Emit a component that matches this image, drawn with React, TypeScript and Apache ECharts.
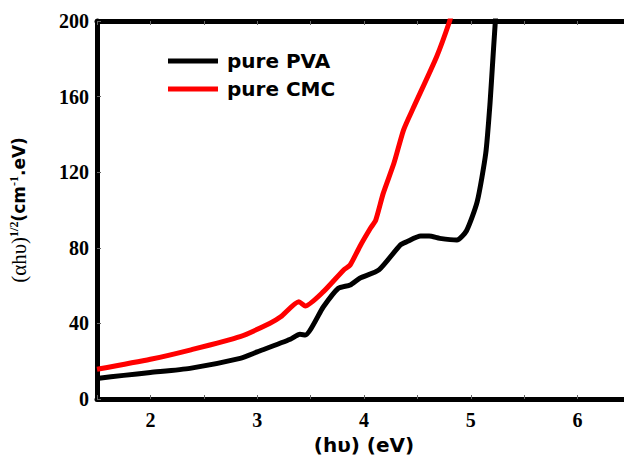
import React, { useEffect, useRef } from "react";
import * as echarts from "echarts";

const pvaX = [1.5, 1.75, 2.0, 2.37, 2.84, 3.0, 3.31, 3.4, 3.45, 3.62, 3.76, 3.87, 3.96, 4.14, 4.34, 4.4, 4.53, 4.61, 4.71, 4.87, 4.96, 5.06, 5.14, 5.18, 5.21, 5.23, 5.245];
const pvaY = [10.9, 12.5, 14.0, 16.2, 21.5, 24.9, 31.6, 34.2, 33.9, 48.8, 58.6, 60.3, 63.9, 68.3, 81.5, 83.2, 86.2, 86.2, 85.0, 84.1, 89.0, 104.4, 130, 156.5, 182.9, 200, 215];
const cmcX = [1.5, 2.0, 2.37, 2.84, 3.12, 3.22, 3.39, 3.45, 3.62, 3.81, 3.87, 3.96, 4.06, 4.11, 4.18, 4.28, 4.37, 4.46, 4.68, 4.8, 4.83];
const cmcY = [15.7, 21.0, 25.9, 33.0, 40.1, 43.5, 51.5, 49.2, 56.8, 68.3, 70.9, 80.6, 90.3, 94.7, 108.8, 124.7, 142.3, 153.8, 181.1, 199.6, 206];
const xTicks = [2, 3, 4, 5, 6];
const yTicks = [0, 40, 80, 120, 160, 200];

const serif = "'Liberation Serif', 'Times New Roman', serif";
const wide = "'DejaVu Sans', 'Liberation Sans', Arial, sans-serif";

export default function App() {
  const ref = useRef<HTMLDivElement>(null);
  useEffect(() => {
    if (!ref.current) return;
    const chart = echarts.init(ref.current, undefined, { renderer: "svg" });
    const axisLine = { show: true, lineStyle: { color: "#000", width: 5 } };
    chart.setOption({
      animation: false,
      backgroundColor: "#fff",
      grid: { left: 97, top: 21, bottom: 60, right: -7, outerBoundsMode: "none", containLabel: false },
      legend: {
        orient: "vertical",
        left: 168,
        top: 50,
        padding: 0,
        itemWidth: 50,
        itemHeight: 5,
        itemGap: 6,
        icon: "rect",
        textStyle: { fontFamily: wide, fontWeight: "bold", fontSize: 20, color: "#000", lineHeight: 22, padding: [0, 0, 0, 4] },
        data: ["pure PVA", "pure CMC"],
      },
      xAxis: [
        {
          type: "value",
          min: 1.5,
          max: 6.5,
          interval: 0.5,
          axisLine: { ...axisLine, onZero: false },
          axisTick: { show: true, inside: true, length: 4, lineStyle: { color: "#666", width: 1 } },
          splitLine: { show: false },
          axisLabel: {
            margin: 11,
            fontFamily: serif,
            fontWeight: "bold",
            fontSize: 20,
            color: "#000",
            formatter: (v: number) => (xTicks.includes(v) ? String(v) : ""),
          },
          name: "(hυ) (eV)",
          nameLocation: "middle",
          nameGap: 36,
          nameTextStyle: { fontFamily: wide, fontWeight: "bold", fontSize: 20, color: "#000", lineHeight: 20 },
        },
        {
          type: "value",
          position: "top",
          min: 1.5,
          max: 6.5,
          interval: 0.5,
          axisLine: { ...axisLine, onZero: false },
          axisTick: { show: true, inside: true, length: 4, lineStyle: { color: "#666", width: 1 } },
          axisLabel: { show: false },
          splitLine: { show: false },
        },
      ],
      yAxis: {
        type: "value",
        min: 0,
        max: 200,
        interval: 40,
        axisLine: { ...axisLine, onZero: false },
        axisTick: { show: true, inside: true, length: 4, lineStyle: { color: "#666", width: 1 } },
        splitLine: { show: false },
        axisLabel: {
          margin: 8,
          fontFamily: serif,
          fontWeight: "bold",
          fontSize: 20,
          color: "#000",
          formatter: (v: number) => (yTicks.includes(v) ? String(v) : ""),
        },
        name: "{a|(αhυ)}{s|1/2}{b|(cm}{s|-1}{b|.eV)}",
        nameLocation: "middle",
        nameGap: 66,
        nameRotate: 90,
        nameTextStyle: {
          rich: {
            a: { fontFamily: serif, fontSize: 21, color: "#000", lineHeight: 24 },
            s: { fontFamily: serif, fontSize: 12, color: "#000", fontWeight: "bold", padding: [0, 0, 10, 0], lineHeight: 24 },
            b: { fontFamily: wide, fontSize: 17, fontWeight: "bold", color: "#000", lineHeight: 24 },
          },
        },
      },
      series: [
        {
          name: "pure PVA",
          type: "line",
          data: pvaX.map((x, i) => [x, pvaY[i]]),
          showSymbol: false,
          smooth: 0.2,
          clip: true,
          lineStyle: { color: "#000", width: 5 },
          itemStyle: { color: "#000" },
        },
        {
          name: "pure CMC",
          type: "line",
          data: cmcX.map((x, i) => [x, cmcY[i]]),
          showSymbol: false,
          smooth: 0.2,
          clip: true,
          lineStyle: { color: "#ff0000", width: 5 },
          itemStyle: { color: "#ff0000" },
        },
      ],
    });
    return () => chart.dispose();
  }, []);
  return <div ref={ref} style={{ width: 624, height: 459, position: "fixed", left: 0, top: 0 }} />;
}
